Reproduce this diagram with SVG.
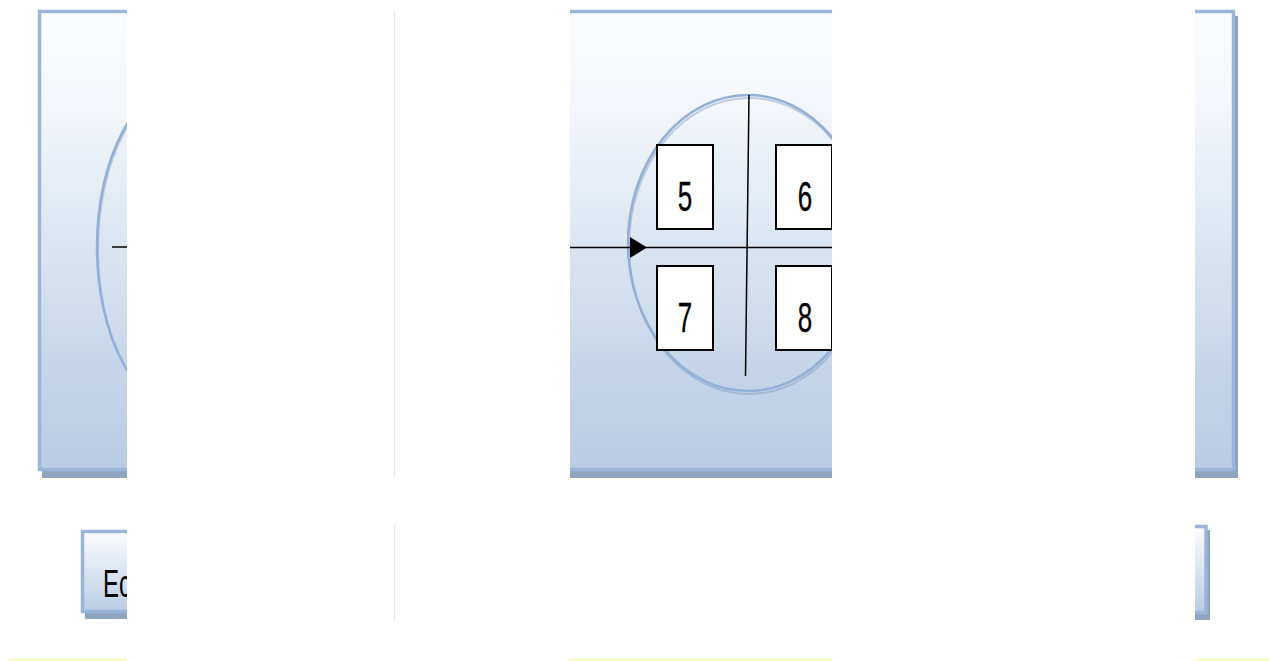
<svg xmlns="http://www.w3.org/2000/svg" width="1269" height="661" viewBox="0 0 1269 661">
  <style>
    .panel { fill: url(#panelGrad); stroke: #9ab5d9; stroke-width: 3.5; }
    .btn { fill: url(#btnGrad); stroke: #9ab5d9; stroke-width: 3.5; }
    .shadow { fill: #8ea4bf; }
    .ring { fill: none; stroke: #92b0d6; stroke-width: 2.5; }
    .ringShadow { fill: none; stroke: #7d98bd; stroke-width: 2; opacity: 0.45; }
    .cell { fill: #ffffff; stroke: #000000; stroke-width: 2; }
    .axis { stroke: #000000; stroke-width: 1.5; fill: none; }
    .num { font-family: "Liberation Sans", Arial, sans-serif; font-size: 26px; fill: #000000; stroke: #000000; stroke-width: 0.2; text-anchor: middle; }
    .lbl { font-family: "Liberation Sans", Arial, sans-serif; font-size: 24px; fill: #000000; }
    .edge { stroke: #dfe8f3; stroke-width: 1; }
  </style>
  <defs>
    <linearGradient id="panelGrad" gradientUnits="userSpaceOnUse" x1="0" y1="10" x2="0" y2="470">
      <stop offset="0" stop-color="#fbfcfe"/>
      <stop offset="0.2" stop-color="#f4f7fb"/>
      <stop offset="0.5" stop-color="#dce6f2"/>
      <stop offset="0.8" stop-color="#c3d4e9"/>
      <stop offset="1" stop-color="#b8cce4"/>
    </linearGradient>
    <linearGradient id="btnGrad" x1="0" y1="0" x2="0" y2="1">
      <stop offset="0" stop-color="#fbfcfe"/>
      <stop offset="0.5" stop-color="#dbe5f1"/>
      <stop offset="1" stop-color="#b8cce4"/>
    </linearGradient>
    <marker id="arrow" viewBox="0 0 10 10" refX="10" refY="5" markerWidth="17" markerHeight="21" markerUnits="userSpaceOnUse" orient="auto" preserveAspectRatio="none">
      <path d="M0,0 L10,5 L0,10 Z" fill="#000000"/>
    </marker>
    <clipPath id="visible">
      <rect x="0" y="0" width="127" height="661"/>
      <rect x="570" y="0" width="262" height="661"/>
      <rect x="1195" y="0" width="74" height="661"/>
    </clipPath>
  </defs>

  <rect x="0" y="0" width="1269" height="661" fill="#ffffff"/>

  <g clip-path="url(#visible)">
    <g id="panel">
      <rect class="shadow" x="42" y="16" width="1196" height="462"/>
      <rect class="panel" x="39.5" y="11.5" width="1194" height="458"/>
    </g>

    <g id="ring-left">
      <ellipse class="ringShadow" cx="188" cy="249" rx="90" ry="165"/>
      <ellipse class="ring" cx="187" cy="247" rx="90" ry="165"/>
    </g>

    <g id="ring-middle">
      <ellipse class="ringShadow" cx="749" cy="246" rx="120" ry="148"/>
      <ellipse class="ring" cx="748" cy="243" rx="120" ry="148"/>
    </g>

    <g id="connectors">
      <line class="axis" x1="112" y1="247" x2="240" y2="247"/>
      <line class="axis" x1="500" y1="247.5" x2="647" y2="247.5" marker-end="url(#arrow)"/>
      <line class="axis" x1="647" y1="247.5" x2="840" y2="247.5"/>
      <line class="axis" x1="749" y1="95" x2="745.5" y2="376"/>
    </g>

    <g id="cell-5">
      <rect class="cell" x="657" y="145" width="56" height="84"/>
      <text class="num" transform="translate(685,211) scale(1,1.65)">5</text>
    </g>
    <g id="cell-6">
      <rect class="cell" x="776" y="145" width="56" height="84"/>
      <text class="num" transform="translate(805,211) scale(1,1.65)">6</text>
    </g>
    <g id="cell-7">
      <rect class="cell" x="657" y="266" width="56" height="84"/>
      <text class="num" transform="translate(685,332) scale(1,1.65)">7</text>
    </g>
    <g id="cell-8">
      <rect class="cell" x="776" y="266" width="56" height="84"/>
      <text class="num" transform="translate(805,332) scale(1,1.65)">8</text>
    </g>

    <g id="button-left">
      <rect class="shadow" x="85" y="536" width="200" height="83"/>
      <rect class="btn" x="82.5" y="531.5" width="200" height="80"/>
      <text class="lbl" transform="translate(103,597) scale(1,1.6)">Ec</text>
    </g>

    <g id="button-right">
      <rect class="shadow" x="1010" y="530" width="200" height="90"/>
      <rect class="btn" x="1006" y="526.5" width="200" height="86"/>
    </g>

    <rect x="10" y="658.5" width="1259" height="2.5" fill="#fdfbc4"/>
  </g>

  <g id="edge-trace">
    <line class="edge" x1="394.5" y1="10" x2="394.5" y2="478"/>
    <line class="edge" x1="394.5" y1="525" x2="394.5" y2="620"/>
  </g>
</svg>
